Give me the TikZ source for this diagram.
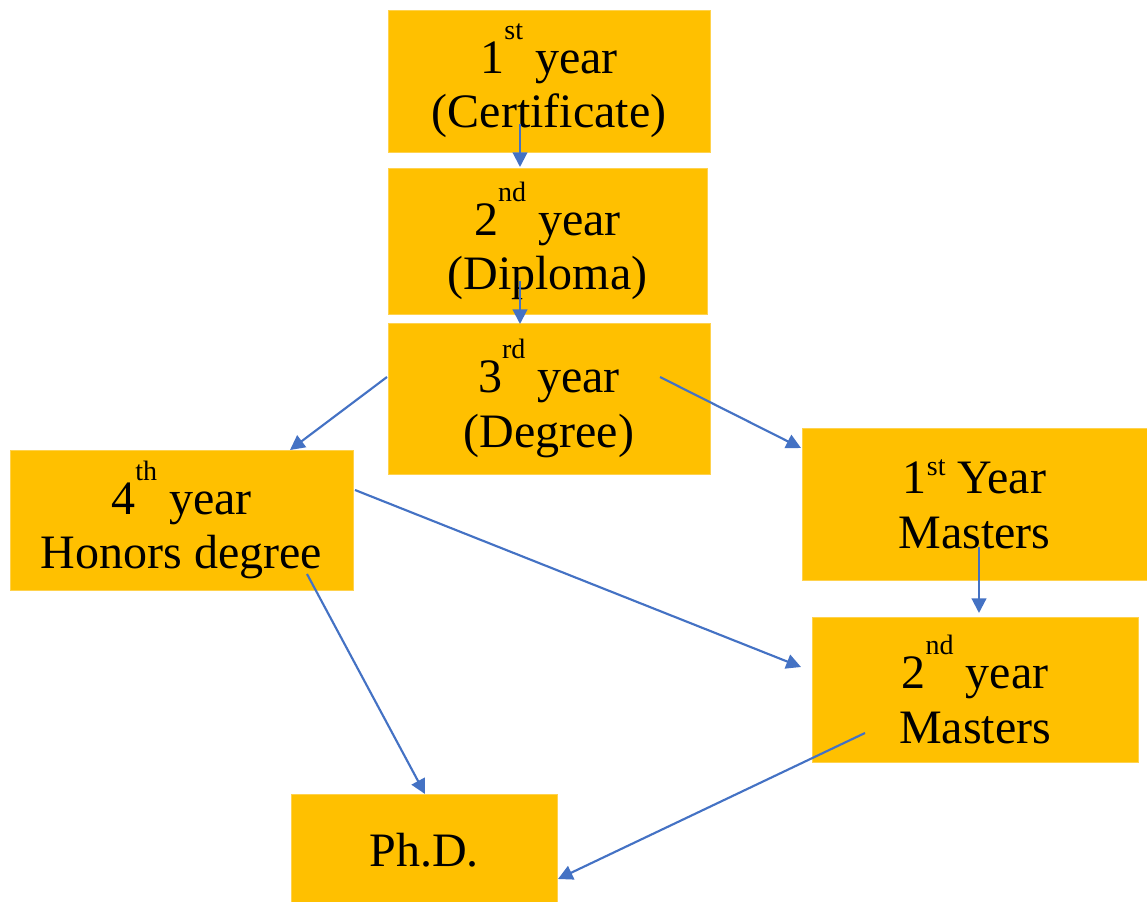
\documentclass[tikz,border=0pt]{standalone}
\usepackage{fontspec}
\setmainfont{Liberation Serif}
\usetikzlibrary{arrows.meta}
\definecolor{boxfill}{HTML}{FFC000}
\definecolor{boxedge}{HTML}{FFD24D}
\definecolor{arrblue}{HTML}{4472C4}
\newcommand\hisup[1]{\raisebox{0.7em}{\fontsize{21}{21}\selectfont #1}}
\newcommand\losup[1]{\raisebox{0.38em}{\fontsize{21}{21}\selectfont #1}}
\begin{document}
\begin{tikzpicture}[x=0.75pt,y=-0.75pt,
  stage/.style={rectangle, fill=boxfill, draw=boxedge, line width=0.6pt, inner sep=0pt, align=center,
    font=\fontsize{36}{41}\selectfont, text=black},
  arr/.style={draw=arrblue, line width=1.6pt, -{Triangle[length=11pt,width=11pt]}}]
\useasboundingbox (0,0) rectangle (1147,902);
\node[stage, minimum width=322*0.75pt, minimum height=142*0.75pt] (b1) at (549,81) {1\hisup{st} year\\(Certificate)};
\node[stage, minimum width=319*0.75pt, minimum height=146*0.75pt] (b2) at (547.5,241) {2\hisup{nd} year\\(Diploma)};
\node[stage, minimum width=322*0.75pt, minimum height=151*0.75pt] (b3) at (549,398.5) {3\hisup{rd} year\\(Degree)};
\node[stage, minimum width=343*0.75pt, minimum height=140*0.75pt] (b4) at (181.5,520) {4\hisup{th} year\\Honors degree};
\node[stage, minimum width=345*0.75pt, minimum height=152*0.75pt] (b5) at (974.5,504) {1\losup{st} Year\\Masters};
\node[stage, minimum width=326*0.75pt, minimum height=145*0.75pt] (b6) at (975,689.5) {2\hisup{nd} year\\Masters};
\node[stage, minimum width=266*0.75pt, minimum height=112*0.75pt] (b7) at (424,850) {Ph.D.};
% arrow start points (inside source boxes)
\coordinate (s12) at (520,124);
\coordinate (s23) at (520,281);
\coordinate (s34) at (387,377);
\coordinate (s35) at (660,377);
\coordinate (s46) at (355,490);
\coordinate (s47) at (307,574);
\coordinate (s56) at (979,547);
\coordinate (s67) at (865,733);
% arrow end points
\coordinate (e12) at (520,167);
\coordinate (e23) at (520,324);
\coordinate (e34) at (290,450);
\coordinate (e35) at (801,448);
\coordinate (e46) at (801,667);
\coordinate (e47) at (425,794);
\coordinate (e56) at (979,613);
\coordinate (e67) at (558,879);
\draw[arr] (s12) -- (e12);
\draw[arr] (s23) -- (e23);
\draw[arr] (s34) -- (e34);
\draw[arr] (s35) -- (e35);
\draw[arr] (s46) -- (e46);
\draw[arr] (s47) -- (e47);
\draw[arr] (s56) -- (e56);
\draw[arr] (s67) -- (e67);
\end{tikzpicture}
\end{document}
